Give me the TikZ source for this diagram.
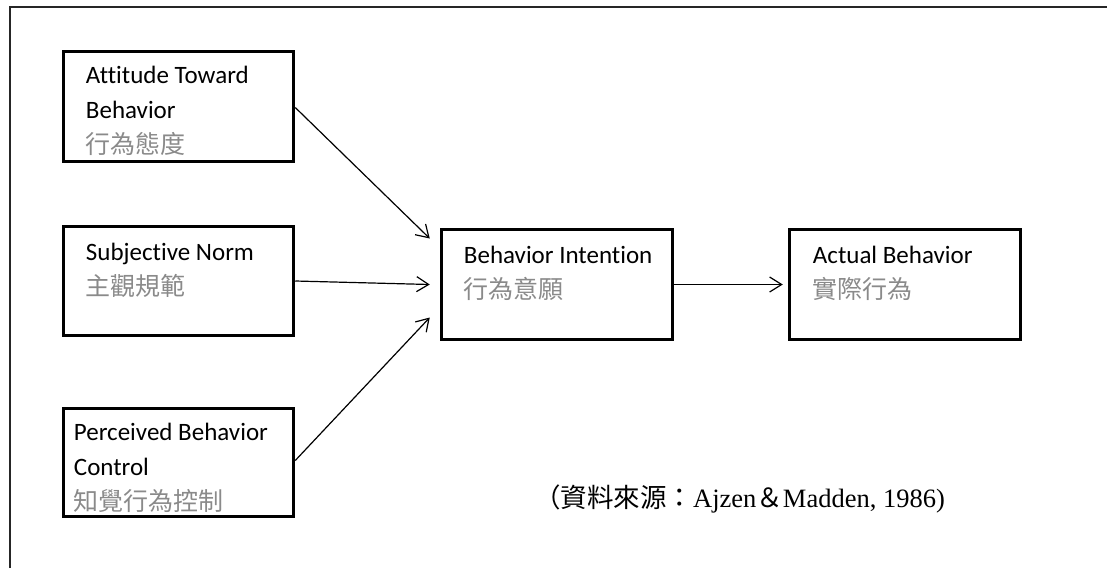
\documentclass[tikz,border=0pt]{standalone}
\usepackage{fontspec}
\setmainfont{Carlito}[Ligatures=NoCommon]
\newfontfamily\cjk{Noto Sans CJK TC}
\newfontfamily\tnr{Liberation Serif}
\usepackage{tikz}
\usetikzlibrary{arrows.meta,positioning}
\definecolor{cFrame}{HTML}{262626}
\definecolor{cZh}{HTML}{8A8A8A}
\tikzset{
  tpbox/.style={draw=black, line width=3.5pt, minimum width=230pt, minimum height=110pt, inner sep=0pt},
  boxtxt/.style={inner sep=0pt, align=left, font=\fontsize{25}{35}\selectfont},
  arr/.style={-{Straight Barb[length=12pt,width=15pt]}, line width=1.2pt},
  srctxt/.style={inner sep=0pt, font=\tnr\fontsize{26.5}{30}\selectfont}
}
\newcommand{\zh}[1]{{\cjk\color{cZh}#1}}

\begin{document}
\begin{tikzpicture}[x=1pt, y=-1pt]
\useasboundingbox (0,0) rectangle (1107,568);
% frame (only top and left show)
\draw[cFrame, line width=1.6pt] (10,568) -- (10,7) -- (1107,7);
% the three antecedents
\node[tpbox] (att) at (178.5,106.5) {};
\node[tpbox, minimum height=109pt] (subj) at (178.5,281) {};
\node[tpbox, minimum height=108pt] (perc) at (178.5,462.5) {};
% intention and behaviour
\node[tpbox, minimum width=231pt] (bi) at (557,284.5) {};
\node[tpbox, minimum width=231pt] (act) at (905,284.5) {};
% box texts
\node[boxtxt, below right=16pt and 24pt of att.north west] (attT)
  {Attitude Toward\\Behavior\\\zh{行為態度}};
\node[boxtxt, below right=18pt and 24pt of subj.north west] (subjT)
  {Subjective Norm\\\zh{主觀規範}};
\node[boxtxt, below right=16pt and 12pt of perc.north west] (percT)
  {Perceived Behavior\\Control\\\zh{知覺行為控制}};
\node[boxtxt, below right=18pt and 24pt of bi.north west] (biT)
  {Behavior Intention\\\zh{行為意願}};
\node[boxtxt, below right=18pt and 25pt of act.north west] (actT)
  {Actual Behavior\\\zh{實際行為}};
% arrows
\draw[arr] ([yshift=-1pt]att.east) -- ([xshift=-10pt,yshift=46pt]bi.west);
\draw[arr] (subj.east) -- ([xshift=-10pt]bi.west);
\draw[arr] ([yshift=2pt]perc.east) -- ([xshift=-10pt,yshift=-33pt]bi.west);
\draw[arr] (bi.east) -- ([xshift=-5pt]act.west);
% source
\node[srctxt, anchor=base west] (src) at (534,507)
  {{\cjk （資料來源：}Ajzen{\cjk ＆}Madden, 1986)};
\end{tikzpicture}
\end{document}
